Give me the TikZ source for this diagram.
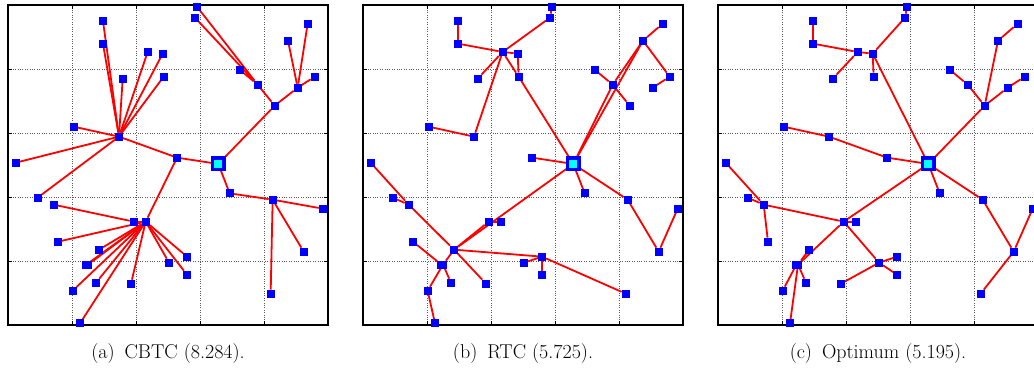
\documentclass[tikz,border=0pt]{standalone}
\pgfdeclarelayer{gridlayer}
\pgfdeclarelayer{edgelayer}
\pgfsetlayers{gridlayer,edgelayer,main}
\definecolor{nodeblue}{RGB}{0,0,255}
\definecolor{edgered}{RGB}{255,0,0}
\definecolor{sinkcyan}{RGB}{0,255,255}
\tikzset{
  nd/.style={rectangle, fill=nodeblue, minimum size=8pt, inner sep=0pt, outer sep=0pt},
  sinknode/.style={rectangle, fill=sinkcyan, draw=nodeblue, line width=3.5pt, minimum size=11.5pt, inner sep=0pt, outer sep=0pt},
  edge/.style={draw=edgered, line width=1.8pt},
  gridline/.style={draw=black!65, line width=0.6pt, dash pattern=on 0.8pt off 1.6pt},
  frameline/.style={draw=black, line width=1.3pt},
  tickline/.style={draw=black, line width=0.9pt},
  capt/.style={font=\fontsize{20}{24}\selectfont, anchor=base, inner sep=0pt},
}
\newcommand{\mknodes}[1]{%
  \node[nd] (#1-1) at (2.953,4.974) {};
  \node[nd] (#1-2) at (2.922,4.802) {};
  \node[nd] (#1-3) at (1.484,4.750) {};
  \node[nd] (#1-4) at (1.484,4.396) {};
  \node[nd] (#1-5) at (4.682,4.708) {};
  \node[nd] (#1-6) at (4.375,4.443) {};
  \node[nd] (#1-7) at (2.182,4.266) {};
  \node[nd] (#1-8) at (2.417,4.240) {};
  \node[nd] (#1-9) at (2.432,3.880) {};
  \node[nd] (#1-10) at (1.792,3.849) {};
  \node[nd] (#1-11) at (3.620,3.990) {};
  \node[nd] (#1-12) at (3.901,3.755) {};
  \node[nd] (#1-13) at (4.792,3.880) {};
  \node[nd] (#1-14) at (4.526,3.708) {};
  \node[nd] (#1-15) at (4.167,3.427) {};
  \node[nd] (#1-16) at (1.026,3.099) {};
  \node[nd] (#1-17) at (1.734,2.943) {};
  \node[nd] (#1-18) at (0.120,2.536) {};
  \node[nd] (#1-19) at (2.641,2.615) {};
  \node[nd] (#1-21) at (3.464,2.057) {};
  \node[nd] (#1-22) at (0.464,1.990) {};
  \node[nd] (#1-23) at (0.714,1.880) {};
  \node[nd] (#1-24) at (4.135,1.958) {};
  \node[nd] (#1-25) at (4.917,1.818) {};
  \node[nd] (#1-26) at (1.964,1.615) {};
  \node[nd] (#1-27) at (2.151,1.615) {};
  \node[nd] (#1-28) at (0.781,1.302) {};
  \node[nd] (#1-29) at (1.422,1.177) {};
  \node[nd] (#1-30b) at (1.225,0.943) {};
  \node[nd] (#1-30) at (1.250,0.943) {};
  \node[nd] (#1-31) at (2.797,1.068) {};
  \node[nd] (#1-32) at (2.516,0.974) {};
  \node[nd] (#1-33) at (2.797,0.786) {};
  \node[nd] (#1-34) at (4.620,1.146) {};
  \node[nd] (#1-35) at (1.010,0.536) {};
  \node[nd] (#1-36) at (1.375,0.661) {};
  \node[nd] (#1-37) at (1.922,0.646) {};
  \node[nd] (#1-38) at (4.104,0.490) {};
  \node[nd] (#1-39) at (1.125,0.026) {};
  \node[sinknode] (#1-s) at (3.286,2.516) {};
}
\newcommand{\mkframe}{%
  \begin{pgfonlayer}{gridlayer}
    \begin{scope}
      \clip (pgLL) rectangle (pgUR);
      \foreach \k in {1,...,4} {
        \draw[gridline] (\k,0) -- (\k,5);
        \draw[gridline] (0,\k) -- (5,\k);
        \draw[tickline] (\k,0) -- ++(0,4pt);
        \draw[tickline] (\k,5) -- ++(0,-4pt);
        \draw[tickline] (0,\k) -- ++(4pt,0);
        \draw[tickline] (5,\k) -- ++(-4pt,0);
      }
      \draw[frameline] (0,0) rectangle (5,5);
    \end{scope}
  \end{pgfonlayer}
}
\newcommand{\mkedges}[2]{%
  \begin{pgfonlayer}{edgelayer}
    \begin{scope}
      \clip (pgLL) rectangle (pgUR);
      \foreach \p/\q in {#2} { \draw[edge] (#1-\p) -- (#1-\q); }
    \end{scope}
  \end{pgfonlayer}
}
\begin{document}
\begin{tikzpicture}[x=1pt,y=1pt]
  \coordinate (pgLL) at (0,0);
  \coordinate (pgUR) at (1034,372);
  \useasboundingbox (pgLL) rectangle (pgUR);
  \begin{scope}
  \clip (pgLL) rectangle (pgUR);
  % panel (a)
  \begin{scope}[shift={(8,47)}, x=64pt, y=64pt]
    \mkframe
    \mknodes{a}
    \mkedges{a}{1/12, 2/12, 11/12, 12/15, 15/14, 14/6, 14/5, 14/13, 15/s,
      17/3, 17/4, 17/10, 17/7, 17/8, 17/9, 17/16, 17/18, 17/22, 17/19, 19/s,
      19/27, 23/26, 26/27, 27/28, 27/29, 27/30, 27/30b, 27/35, 27/36, 27/37, 27/39, 27/31, 27/32, 27/33,
      s/21, 21/24, 24/25, 24/34, 24/38}
  \end{scope}
  % panel (b)
  \begin{scope}[shift={(363,47)}, x=64pt, y=64pt]
    \mkframe
    \mknodes{b}
    \mkedges{b}{1/2, 2/7, 3/4, 4/7, 7/8, 8/9, 7/9, 7/10, 7/17, 16/17, 9/s,
      5/6, 6/13, 13/14, 11/12, 12/15, 6/12, 6/s, 12/s,
      s/19, s/21, s/24, 24/34, 34/25,
      s/29, 26/29, 26/27, 18/23, 22/23, 23/29, 28/30b, 29/30, 30/36, 30/35, 35/39, 29/37, 29/31, 31/32, 31/33, 31/38}
  \end{scope}
  % panel (c)
  \begin{scope}[shift={(718,47)}, x=64pt, y=64pt]
    \mkframe
    \mknodes{c}
    \mkedges{c}{1/2, 2/8, 3/4, 4/7, 7/8, 7/10, 8/9, 8/s,
      16/17, 17/19, 19/s,
      11/12, 12/15, 15/6, 6/5, 15/14, 14/13, 15/s,
      s/21, s/24, 24/34, 34/25, 34/38,
      s/26, 26/27, 26/23, 23/22, 23/18, 23/28, 26/30, 29/30, 30b/35, 30/39, 30/36, 26/32, 32/31, 32/33, 32/37}
  \end{scope}
  \node[capt] (capa) at (168,13) {(a)\enspace CBTC (8.284).};
  \node[capt] (capb) at (523,13) {(b)\enspace RTC (5.725).};
  \node[capt] (capc) at (878,13) {(c)\enspace Optimum (5.195).};
  \end{scope}
\end{tikzpicture}
\end{document}
